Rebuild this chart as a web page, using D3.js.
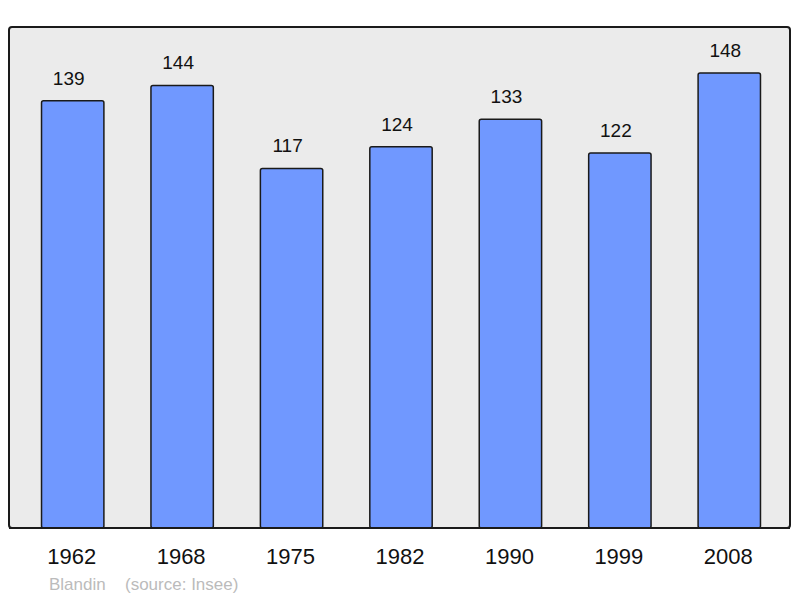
<!DOCTYPE html>
<html>
<head>
<meta charset="utf-8">
<script src="https://cdn.jsdelivr.net/npm/d3@7"></script>
<style>
  body { margin: 0; background: #fff; }
  text { font-family: "Liberation Sans", Arial, sans-serif; }
</style>
</head>
<body>
<svg id="chart" width="800" height="598"></svg>
<script>
const years = ["1962", "1968", "1975", "1982", "1990", "1999", "2008"];
const population = [139, 144, 117, 124, 133, 122, 148];
const author = "Blandin";
const source = "(source: Insee)";

const svg = d3.select("#chart");

// panel
svg.append("rect")
  .attr("x", 9).attr("y", 27)
  .attr("width", 781).attr("height", 501)
  .attr("rx", 3)
  .attr("fill", "#ebebeb")
  .attr("stroke", "#1a1a1a")
  .attr("stroke-width", 2);

const x = d3.scaleBand()
  .domain(years)
  .range([18, 784])
  .paddingInner(0.43)
  .paddingOuter(0.215);

const y = d3.scaleLinear()
  .domain([0, 163])
  .range([528, 27]);

const data = years.map((yr, i) => ({ year: yr, value: population[i] }));

svg.append("g")
  .selectAll("rect")
  .data(data)
  .enter()
  .append("rect")
  .attr("x", d => x(d.year))
  .attr("y", d => y(d.value))
  .attr("width", x.bandwidth())
  .attr("height", d => y(0) - y(d.value))
  .attr("rx", 2)
  .attr("fill", "#7098ff")
  .attr("stroke", "#1a1a1a")
  .attr("stroke-width", 1.5);

// redraw the bottom border over the bars
svg.append("line")
  .attr("x1", 9).attr("x2", 790)
  .attr("y1", 528).attr("y2", 528)
  .attr("stroke", "#1a1a1a")
  .attr("stroke-width", 2);

svg.append("g")
  .selectAll("text")
  .data(data)
  .enter()
  .append("text")
  .attr("x", d => x(d.year) + x.bandwidth() / 2 - 4)
  .attr("y", d => y(d.value) - 16)
  .attr("text-anchor", "middle")
  .attr("font-size", 19)
  .attr("fill", "#111")
  .text(d => d.value);

// year labels
svg.append("g")
  .selectAll("text")
  .data(years)
  .enter()
  .append("text")
  .attr("x", d => x(d) + x.bandwidth() / 2 - 1)
  .attr("y", 564)
  .attr("text-anchor", "middle")
  .attr("font-size", 22)
  .attr("fill", "#111")
  .text(d => d);

svg.append("text")
  .attr("x", 49).attr("y", 590)
  .attr("font-size", 17)
  .attr("fill", "#bbb")
  .text(author);

svg.append("text")
  .attr("x", 125).attr("y", 590)
  .attr("font-size", 17)
  .attr("fill", "#bbb")
  .text(source);
</script>
</body>
</html>
